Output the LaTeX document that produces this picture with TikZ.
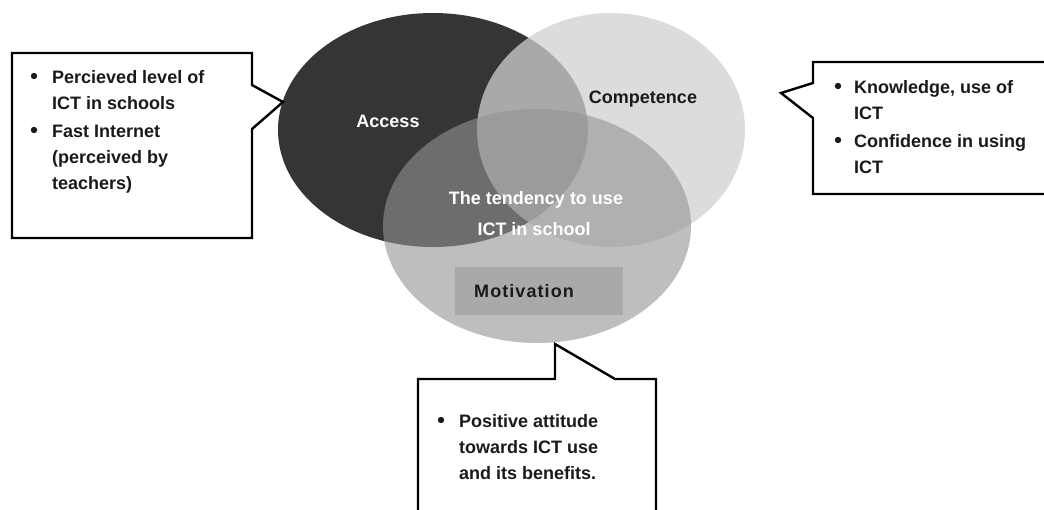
\documentclass[tikz,border=0pt]{standalone}
\usepackage{fontspec}
\setmainfont{Liberation Sans}
\usepackage{xcolor}
\usepackage{tikz}
\usetikzlibrary{positioning}
\definecolor{accessgray}{HTML}{363436}
\definecolor{compgray}{HTML}{D1D1D1}
\definecolor{motigray}{HTML}{939393}
\definecolor{motibox}{HTML}{AAA8A8}
\definecolor{inkgray}{HTML}{1A1A1A}
\tikzset{every picture/.style={font issue=\bfseries\fontsize{18}{26}},
         font issue/.style={execute at begin picture={#1\selectfont}},
         callout/.style={draw=black, fill=white, line width=2.4pt},
         bullettext/.style={anchor=base west, inner sep=0pt, text=inkgray},
         bulletdot/.style={circle, fill=inkgray, inner sep=0pt, minimum size=6.4pt},
         venntext/.style={anchor=base, inner sep=0pt}
        }

\begin{document}
\begin{tikzpicture}[x=1pt, y=-1pt]
\clip (0,0) rectangle (1044,509);
\fill[white] (0,0) rectangle (1044,509);
% the three circles
\fill[accessgray] (433,130) ellipse [x radius=155, y radius=117];
\fill[compgray, fill opacity=0.75] (611,130) ellipse [x radius=134, y radius=117];
\fill[motigray, fill opacity=0.6] (537,226) ellipse [x radius=154, y radius=117];
\fill[motibox] (455,267) rectangle (623,315);
\node[venntext, white] (access) at (388,127) {Access};
\node[venntext, text=inkgray] (competence) at (643,103) {Competence};
\node[venntext, white] (tendency) at (536,204) {The tendency to use};
\node[venntext, white] (ictschool) at (534,235) {ICT in school};
\node[venntext, text=inkgray, anchor=base west] (motivation) at (474,297) {\addfontfeature{LetterSpace=6}Motivation};
% callouts
\draw[callout] (12,53) -- (252,53) -- (252,85) -- (283,102) -- (252,129) -- (252,238) -- (12,238) -- cycle;
\draw[callout] (813,62) -- (1060,62) -- (1060,194) -- (813,194) -- (813,118) -- (781,93) -- (813,83) -- cycle;
\draw[callout] (418,379) -- (555,379) -- (555,344) -- (615,379) -- (656,379) -- (656,530) -- (418,530) -- cycle;
% left items
\node[bulletdot] (lb1) at (34,76) {};
\node[bullettext] (lt1) at (52,83) {\parbox[t]{200pt}{Percieved level of\\ICT in schools}};
\node[bulletdot] (lb2) at (34,130) {};
\node[bullettext] (lt2) at (52,137) {\parbox[t]{200pt}{Fast Internet\\(perceived by\\teachers)}};
% right items
\node[bulletdot] (rb1) at (838,86) {};
\node[bullettext] (rt1) at (854,93) {\parbox[t]{190pt}{Knowledge, use of\\ICT}};
\node[bulletdot] (rb2) at (838,140) {};
\node[bullettext] (rt2) at (854,147) {\parbox[t]{190pt}{Confidence in using\\ICT}};
% bottom item
\node[bulletdot] (bb1) at (441,420) {};
\node[bullettext] (bt1) at (459,427) {\parbox[t]{190pt}{Positive attitude\\towards ICT use\\and its benefits.}};
\end{tikzpicture}
\end{document}
